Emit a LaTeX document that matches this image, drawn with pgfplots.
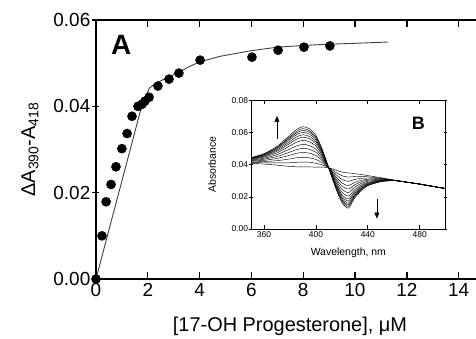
\documentclass[border=0pt]{standalone}
\usepackage{fontspec}
\setmainfont{Liberation Sans}
\usepackage{pgfplots}
\pgfplotsset{compat=1.18}
\usetikzlibrary{arrows.meta}
\begin{document}
\begin{tikzpicture}
\useasboundingbox (-96bp,-60bp) rectangle (380bp,279bp);
\begin{axis}[
  at={(0,0)}, anchor=south west,
  width=383bp, height=259bp, scale only axis,
  xmin=0, xmax=14.7876, ymin=0, ymax=0.06,
  clip=false,
  axis line style={line width=1.8bp},
  xtick={0,2,4,6,8,10,12,14},
  ytick={0,0.02,0.04,0.06},
  scaled y ticks=false,
  xtick align=inside, ytick align=center,
  xtick pos=both, ytick pos=left,
  major tick length=7bp,
  xtick style={black, line width=1.4bp},
  ytick style={black, line width=1.4bp},
  tick label style={font=\fontsize{19}{19}\selectfont},
  /pgf/number format/assume math mode=true,
  xticklabel style={inner sep=1bp, yshift=-3bp},
  yticklabel style={inner sep=1bp, xshift=-1bp, /pgf/number format/fixed, /pgf/number format/fixed zerofill, /pgf/number format/precision=2},
  xlabel={{[}17-OH Progesterone{]}, μM},
  ylabel={ΔA\textsubscript{390}-A\textsubscript{418}},
  xlabel style={at={(axis description cs:0.5065,-0.181)}, anchor=center, font=\fontsize{20}{20}\selectfont},
  ylabel style={at={(axis description cs:-0.1723,0.5)}, anchor=center, font=\fontsize{20}{20}\selectfont},
]
\addplot[black!75, line width=0.9bp] coordinates {
(0,0) (0.5,0.0114) (1.0,0.0227) (1.4,0.0318) (1.7,0.0386) (1.9,0.0420) (2.05,0.0441)
(2.2,0.0449) (2.4,0.0456) (2.8,0.0468) (3.2,0.0479) (3.6,0.0492) (4.0,0.0503)
(4.8,0.0516) (6.0,0.0529) (7.0,0.0537) (8.0,0.0541) (9.0,0.0544) (10,0.0546) (11.27,0.0549)};
\addplot[only marks, mark=*, mark size=4.6bp, black] coordinates {
(0,0) (0.23,0.0100) (0.39,0.0179) (0.58,0.0219) (0.77,0.0260) (1.0,0.0302)
(1.2,0.0337) (1.39,0.0377) (1.62,0.0400) (1.78,0.0405) (1.89,0.0412) (2.05,0.0421)
(2.39,0.0447) (2.82,0.0463) (3.2,0.0477) (4.02,0.0507) (6.02,0.0514) (7.03,0.0530)
(8.03,0.0537) (9.03,0.0540)};
\pgfplotsinvokeforeach{2,4,6,8,10,12,14}{
  \draw[line width=1.4bp] (axis cs:#1,0) -- ++(0,7bp);
  \draw[line width=1.4bp] (axis cs:#1,0.06) -- ++(0,-7bp);
}
\node[font=\fontsize{28}{28}\selectfont\bfseries, anchor=north west, inner sep=0pt]
  at (rel axis cs:0,1) [xshift=15bp, yshift=-15bp] {A};
\end{axis}

\begin{axis}[
  at={(155bp,50bp)}, anchor=south west,
  width=194.7bp, height=128.3bp, scale only axis,
  axis background/.style={fill=white},
  xmin=350, xmax=500, ymin=0, ymax=0.08,
  xtick={360,400,440,480},
  ytick={0,0.02,0.04,0.06,0.08},
  scaled y ticks=false,
  xtick align=inside, ytick align=center,
  major tick length=3.5bp,
  axis line style={line width=0.9bp},
  tick style={black, line width=0.8bp},
  tick label style={font=\fontsize{8.5}{8.5}\selectfont},
  /pgf/number format/assume math mode=true,
  xticklabel style={inner sep=1bp, yshift=-1bp},
  yticklabel style={inner sep=1bp, /pgf/number format/fixed, /pgf/number format/fixed zerofill, /pgf/number format/precision=2},
  xlabel={Wavelength, nm},
  ylabel={Absorbance},
  xlabel style={at={(axis description cs:0.5,-0.187)}, anchor=center, font=\fontsize{10.5}{10.5}\selectfont},
  ylabel style={at={(axis description cs:-0.2,0.5)}, anchor=center, font=\fontsize{10.5}{10.5}\selectfont},
  cycle list={{black, mark=none}},
  every axis plot post/.append style={black, mark=none, line width=0.45bp, smooth, tension=0.4},
]
% f = 0
\addplot coordinates {(350,0.0410)(360,0.0405)(370,0.0398)(380,0.0390)(385,0.0388)(390,0.0387)(395,0.0387)(400,0.0386)(405,0.0386)(410,0.0382)(415,0.0368)(420,0.0355)(425,0.0350)(430,0.0345)(435,0.0340)(440,0.0333)(450,0.0320)(460,0.0305)(470,0.0292)(480,0.0280)(490,0.0266)(500,0.0252)};
% f = 0.12
\addplot coordinates {(350,0.0414)(360,0.0413)(370,0.0412)(380,0.0413)(385,0.0416)(390,0.0417)(395,0.0416)(400,0.0410)(405,0.0399)(410,0.0382)(415,0.0355)(420,0.0332)(425,0.0324)(430,0.0327)(435,0.0328)(440,0.0325)(450,0.0317)(460,0.0305)(470,0.0292)(480,0.0280)(490,0.0266)(500,0.0252)};
% f = 0.24
\addplot coordinates {(350,0.0418)(360,0.0421)(370,0.0426)(380,0.0437)(385,0.0444)(390,0.0447)(395,0.0444)(400,0.0434)(405,0.0412)(410,0.0381)(415,0.0342)(420,0.0309)(425,0.0297)(430,0.0309)(435,0.0316)(440,0.0318)(450,0.0314)(460,0.0304)(470,0.0292)(480,0.0280)(490,0.0266)(500,0.0252)};
% f = 0.36
\addplot coordinates {(350,0.0423)(360,0.0428)(370,0.0440)(380,0.0460)(385,0.0472)(390,0.0477)(395,0.0473)(400,0.0458)(405,0.0425)(410,0.0381)(415,0.0329)(420,0.0287)(425,0.0271)(430,0.0291)(435,0.0304)(440,0.0310)(450,0.0311)(460,0.0304)(470,0.0292)(480,0.0280)(490,0.0266)(500,0.0252)};
% f = 0.46
\addplot coordinates {(350,0.0426)(360,0.0435)(370,0.0452)(380,0.0480)(385,0.0495)(390,0.0503)(395,0.0497)(400,0.0478)(405,0.0436)(410,0.0380)(415,0.0318)(420,0.0268)(425,0.0249)(430,0.0276)(435,0.0294)(440,0.0304)(450,0.0309)(460,0.0304)(470,0.0292)(480,0.0280)(490,0.0266)(500,0.0252)};
% f = 0.56
\addplot coordinates {(350,0.0430)(360,0.0441)(370,0.0464)(380,0.0499)(385,0.0518)(390,0.0528)(395,0.0520)(400,0.0497)(405,0.0447)(410,0.0380)(415,0.0308)(420,0.0249)(425,0.0227)(430,0.0261)(435,0.0284)(440,0.0298)(450,0.0306)(460,0.0303)(470,0.0292)(480,0.0280)(490,0.0266)(500,0.0252)};
% f = 0.66
\addplot coordinates {(350,0.0433)(360,0.0448)(370,0.0475)(380,0.0519)(385,0.0541)(390,0.0553)(395,0.0544)(400,0.0517)(405,0.0458)(410,0.0379)(415,0.0297)(420,0.0230)(425,0.0205)(430,0.0246)(435,0.0274)(440,0.0291)(450,0.0304)(460,0.0303)(470,0.0292)(480,0.0280)(490,0.0266)(500,0.0252)};
% f = 0.74
\addplot coordinates {(350,0.0436)(360,0.0453)(370,0.0485)(380,0.0534)(385,0.0560)(390,0.0573)(395,0.0563)(400,0.0533)(405,0.0467)(410,0.0379)(415,0.0288)(420,0.0214)(425,0.0187)(430,0.0234)(435,0.0266)(440,0.0286)(450,0.0302)(460,0.0303)(470,0.0292)(480,0.0280)(490,0.0266)(500,0.0252)};
% f = 0.80
\addplot coordinates {(350,0.0438)(360,0.0457)(370,0.0492)(380,0.0546)(385,0.0574)(390,0.0588)(395,0.0577)(400,0.0545)(405,0.0473)(410,0.0379)(415,0.0282)(420,0.0203)(425,0.0174)(430,0.0225)(435,0.0260)(440,0.0283)(450,0.0300)(460,0.0303)(470,0.0292)(480,0.0280)(490,0.0266)(500,0.0252)};
% f = 0.86
\addplot coordinates {(350,0.0440)(360,0.0461)(370,0.0499)(380,0.0558)(385,0.0588)(390,0.0603)(395,0.0592)(400,0.0557)(405,0.0480)(410,0.0379)(415,0.0275)(420,0.0192)(425,0.0161)(430,0.0216)(435,0.0254)(440,0.0279)(450,0.0299)(460,0.0302)(470,0.0292)(480,0.0280)(490,0.0266)(500,0.0252)};
% f = 0.91
\addplot coordinates {(350,0.0442)(360,0.0464)(370,0.0505)(380,0.0568)(385,0.0599)(390,0.0615)(395,0.0604)(400,0.0567)(405,0.0485)(410,0.0378)(415,0.0270)(420,0.0182)(425,0.0150)(430,0.0209)(435,0.0249)(440,0.0276)(450,0.0297)(460,0.0302)(470,0.0292)(480,0.0280)(490,0.0266)(500,0.0252)};
% f = 0.95
\addplot coordinates {(350,0.0443)(360,0.0467)(370,0.0509)(380,0.0575)(385,0.0608)(390,0.0626)(395,0.0613)(400,0.0575)(405,0.0490)(410,0.0378)(415,0.0265)(420,0.0175)(425,0.0141)(430,0.0203)(435,0.0245)(440,0.0273)(450,0.0296)(460,0.0302)(470,0.0292)(480,0.0280)(490,0.0266)(500,0.0252)};
% f = 1
\addplot coordinates {(350,0.0445)(360,0.0470)(370,0.0515)(380,0.0585)(385,0.0620)(390,0.0638)(395,0.0625)(400,0.0585)(405,0.0495)(410,0.0378)(415,0.0260)(420,0.0165)(425,0.0130)(430,0.0195)(435,0.0240)(440,0.0270)(450,0.0295)(460,0.0302)(470,0.0292)(480,0.0280)(490,0.0266)(500,0.0252)};
\draw[-{Triangle[length=6bp,width=5bp]}, line width=0.6bp] (axis cs:370,0.056) -- (axis cs:370,0.0705);
\draw[-{Triangle[length=6bp,width=5bp]}, line width=0.6bp] (axis cs:447,0.0187) -- (axis cs:447,0.0065);
\node[font=\fontsize{18}{18}\selectfont\bfseries] at (axis cs:479,0.066) {B};
\end{axis}
\end{tikzpicture}
\end{document}
